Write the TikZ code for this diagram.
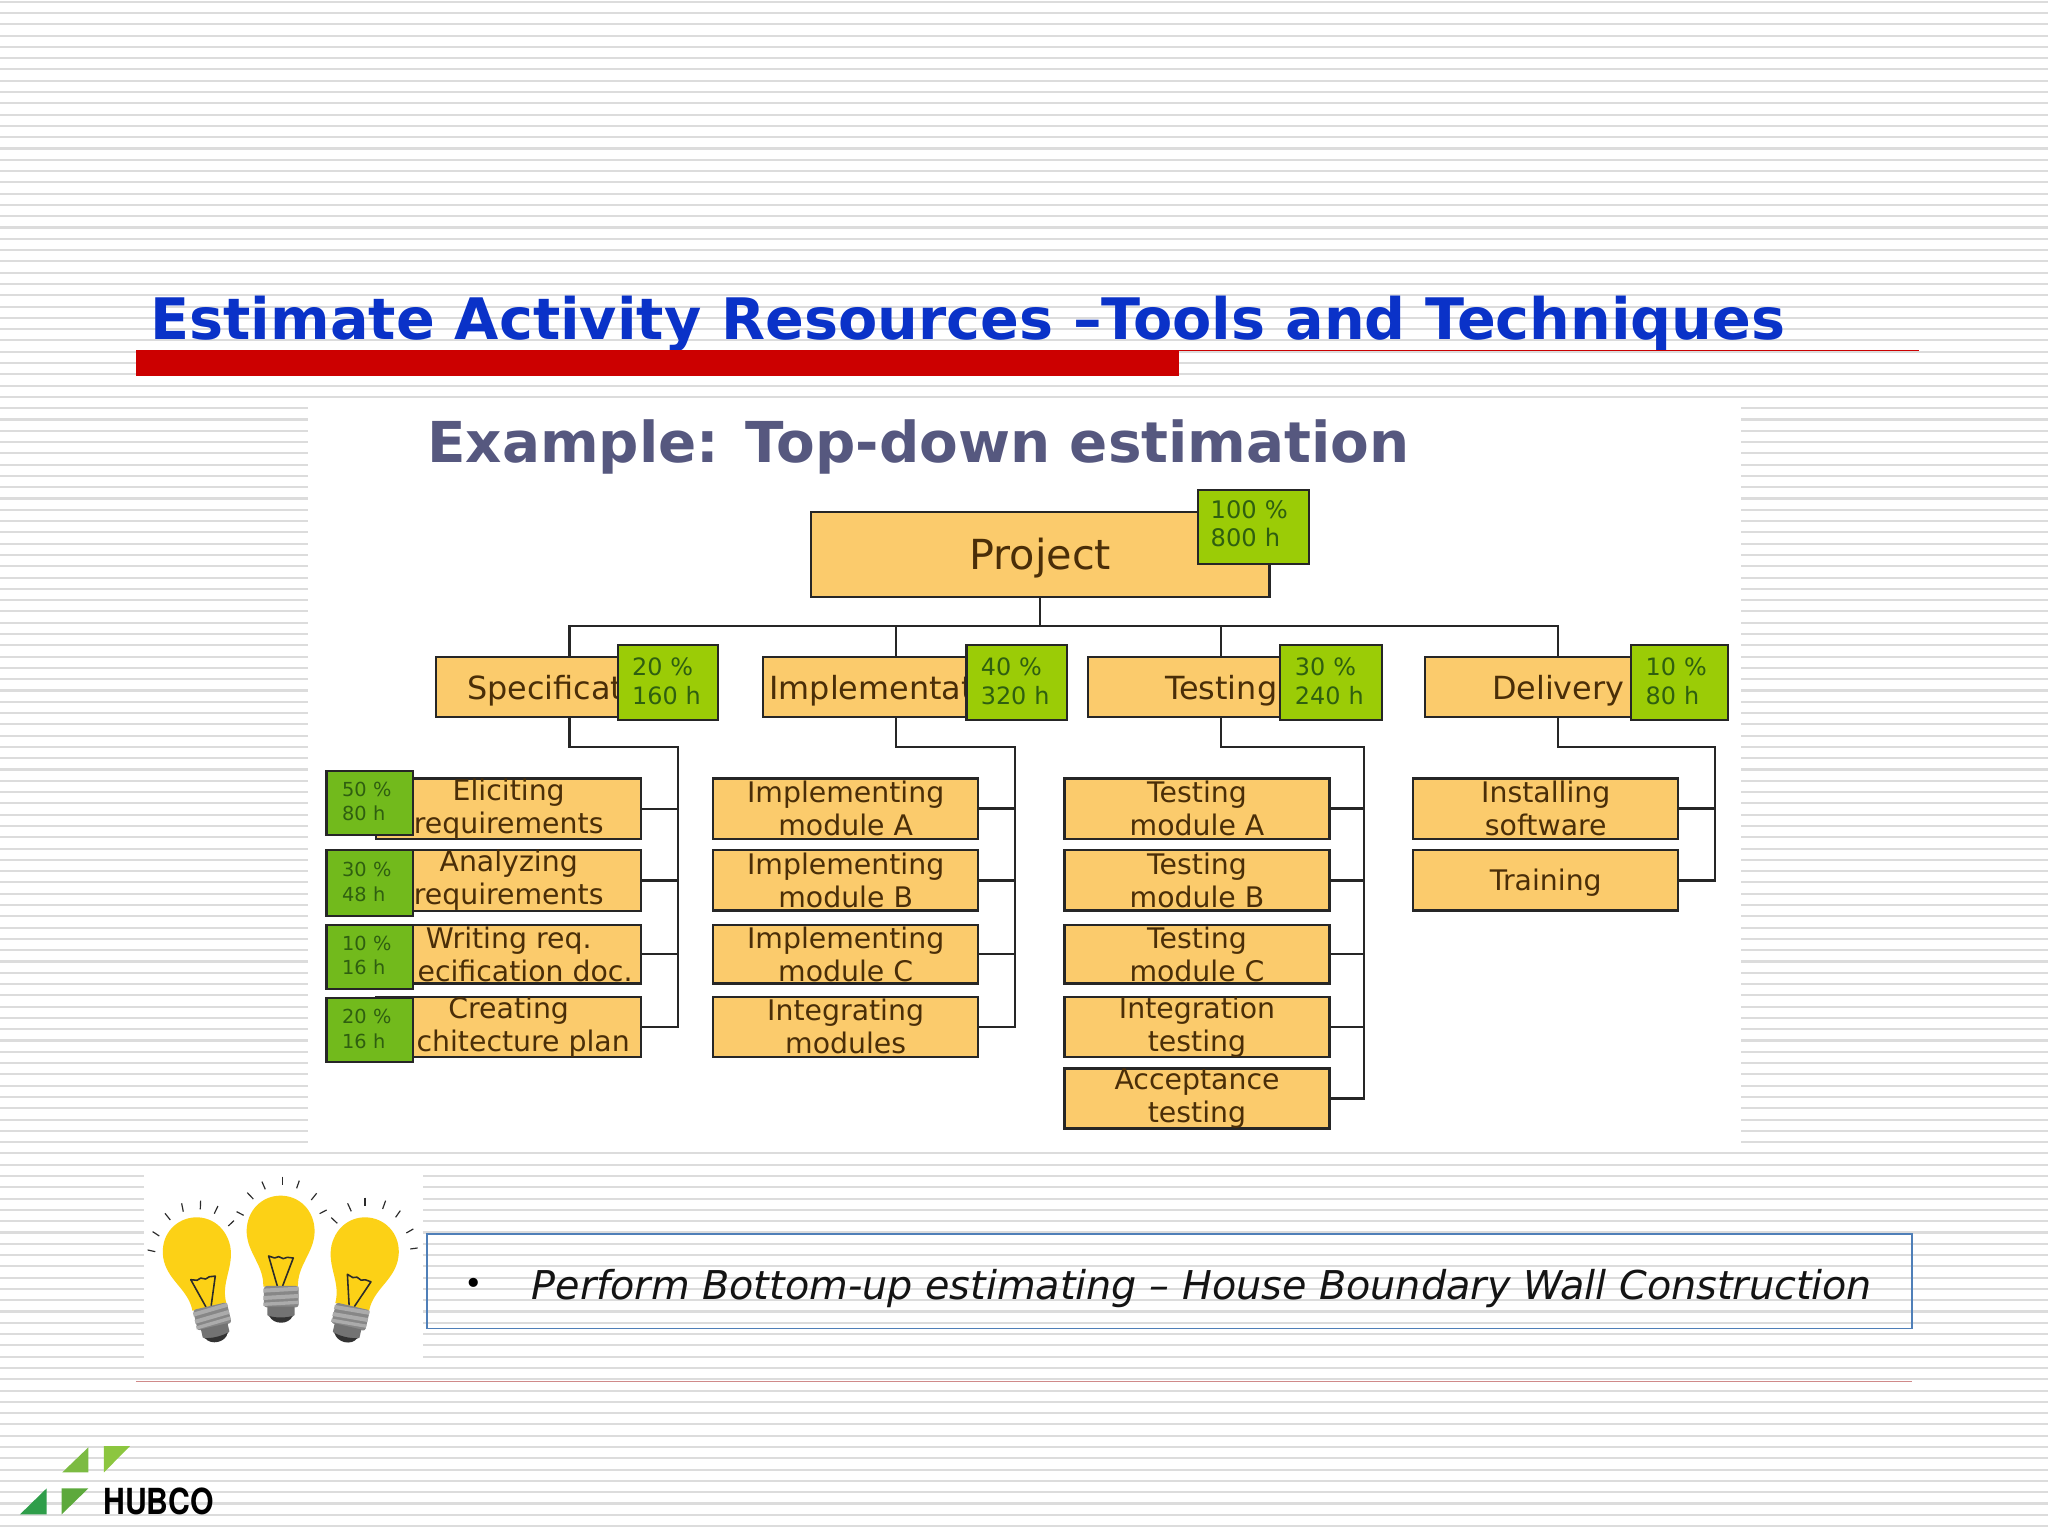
\documentclass[tikz,border=0pt]{standalone}
\usepackage{fontspec}
\setmainfont{DejaVu Sans}
\newfontfamily\logofont{TeX Gyre Heros}
\usetikzlibrary{calc}
\definecolor{stripeg}{HTML}{DCDCDC}
\definecolor{boxfill}{HTML}{FBCB6C}
\definecolor{greenA}{HTML}{9BCC06}
\definecolor{greenB}{HTML}{72BA1C}
\definecolor{boxink}{HTML}{4A2E08}
\definecolor{greenink}{HTML}{2F5F10}
\definecolor{edge}{HTML}{262626}
\definecolor{titleblue}{HTML}{0A32C8}
\definecolor{exink}{HTML}{56587F}
\definecolor{barred}{HTML}{CC0000}
\definecolor{boxblue}{HTML}{4F7FB8}
\definecolor{bulby}{HTML}{FCD116}
\definecolor{bulbk}{HTML}{2B2B2B}
\definecolor{hubA}{HTML}{7CBB42}
\definecolor{hubB}{HTML}{8CC63F}
\definecolor{hubC}{HTML}{2F9E4A}
\definecolor{hubD}{HTML}{5DA93C}
\definecolor{footred}{HTML}{D08A8A}
\newcommand\fz[2]{\fontsize{#1}{#2}\selectfont}
\newcommand\dn[2]{\raisebox{-#1pt}[\height][\depth]{#2}}
\newcommand\up[3]{\raisebox{#1pt}[\height][\depth]{\parbox{#2pt}{#3}}}
\tikzset{
  x=1pt,y=-1pt,
  wbs/.style={draw=edge,line width=1.7pt,fill=boxfill,text=boxink,inner sep=0pt,anchor=north west,align=center},
  lvone/.style={wbs,minimum width=351pt,minimum height=65pt,font=\fz{31.7}{34}},
  lvtwo/.style={wbs,minimum width=204pt,minimum height=46pt,font=\fz{24.4}{26}},
  lvthree/.style={wbs,minimum width=203pt,minimum height=46pt,font=\fz{21.7}{25.3}},
  pct/.style={draw=edge,line width=1.7pt,fill=greenA,text=greenink,inner sep=0pt,anchor=north west,align=left},
  pctbig/.style={pct,minimum width=85pt,minimum height=57pt,text width=65pt,font=\fz{18.5}{21}},
  pctmid/.style={pct,minimum width=77pt,minimum height=57pt,text width=55pt,font=\fz{18.3}{22}},
  pctsmall/.style={pct,fill=greenB,minimum width=66pt,minimum height=49pt,text width=42pt,font=\fz{14.8}{19}},
  link/.style={draw=edge,line width=1.7pt},
  ray/.style={draw=bulbk,line width=.9pt},
  heading/.style={anchor=base west,inner sep=0pt},
}
% one bulb, local origin at the centre of the glass, in zoom units
\newcommand\bulbat[3]{%
\begin{scope}[shift={(#1,#2)},rotate=#3]
  \fill[bulby] (-52,170) .. controls (-50,105) and (-100,70) .. (-102,5)
     .. controls (-102,-60) and (-55,-103) .. (0,-103)
     .. controls (55,-103) and (102,-60) .. (102,5)
     .. controls (100,70) and (50,105) .. (52,170) -- cycle;
  \draw[bulbk,line width=1.2pt,line join=round] (-10,168) -- (-36,78) -- (-18,84) -- (-6,80) -- (8,86) -- (20,82) -- (38,84) -- (6,168);
  \fill[rounded corners=2pt,black!47] (-50,168) rectangle (54,232);
  \fill[black!33] (-52,176) -- (54,170) -- (54,182) -- (-52,188) -- cycle;
  \fill[black!33] (-52,198) -- (54,192) -- (54,204) -- (-52,210) -- cycle;
  \fill[black!33] (-52,218) -- (54,212) -- (54,222) -- (-52,228) -- cycle;
  \fill[black!55] (-40,230) -- (42,230) -- (42,255) .. controls (30,270) and (-28,270) .. (-40,255) -- cycle;
  \fill[black!80] (-34,258) .. controls (-15,264) and (15,264) .. (36,258) .. controls (25,285) and (-22,285) .. (-34,258) -- cycle;
\end{scope}}
\begin{document}
\begin{tikzpicture}
\useasboundingbox (0,0) rectangle (1568,1176);
\clip (0,0) rectangle (1568,1176);
\fill[white] (0,0) rectangle (1568,1176);
\foreach \i in {0,...,135}{
  \pgfmathsetmacro\yy{1.3+\i*8.645}
  \draw[stripeg,line width=1.6pt] (0,\yy) -- (1568,\yy);
}
% title
\node[heading,text=titleblue,font=\bfseries\fz{43.8}{50}] (title) at (115,260) {Estimate Activity Resources –Tools and Techniques};
\fill[barred] (104,268) rectangle (903,288);
\draw[barred,line width=.8pt] (903,268.5) -- (1469,268.5);
% picture panel
\fill[white] (236,307) rectangle (1333,877);
\node[heading,text=exink,font=\bfseries\fz{43.15}{46}] (example) at (327,354) {Example: Top-down estimation};
\begin{scope}[shift={(-.9,-.8)}]
% tree: boxes
\node[lvone] (proj) at (621,392) {\dn{3}{Project}};
\node[lvtwo] (spec) at (334,503) {\dn{3}{Specificat\hphantom{ion}}};
\node[lvtwo] (impl) at (584,503) {\dn{3}{Implementat\hphantom{ion}}};
\node[lvtwo] (test) at (833,503) {\dn{3}{Testing}};
\node[lvtwo] (deli) at (1091,503) {\dn{3}{Delivery}};
\node[lvthree] (a1) at (288,596) {Eliciting\\requirements};
\node[lvthree] (a2) at (288,651) {Analyzing\\requirements};
\node[lvthree,minimum height=45pt] (a3) at (288,708) {Writing req.\\\hphantom{sp}ecification doc.};
\node[lvthree] (a4) at (288,763) {Creating\\\hphantom{ar}chitecture plan};
\node[lvthree] (b1) at (546,596) {Implementing\\module A};
\node[lvthree] (b2) at (546,651) {Implementing\\module B};
\node[lvthree,minimum height=45pt] (b3) at (546,708) {Implementing\\module C};
\node[lvthree] (b4) at (546,763) {Integrating\\modules};
\node[lvthree] (c1) at (815,596) {Testing\\module A};
\node[lvthree] (c2) at (815,651) {Testing\\module B};
\node[lvthree,minimum height=45pt] (c3) at (815,708) {Testing\\module C};
\node[lvthree] (c4) at (815,763) {Integration\\testing};
\node[lvthree] (c5) at (815,818) {Acceptance\\testing};
\node[lvthree] (d1) at (1082,596) {Installing\\software};
\node[lvthree] (d2) at (1082,651) {\dn{2}{Training}};
% tree: connectors
\coordinate (busy) at (0,480);
\coordinate (bus) at (proj.south |- busy);
\coordinate (ra) at (520,573);
\coordinate (rb) at (778,573);
\coordinate (rc) at (1045,573);
\coordinate (rd) at (1314,573);
\draw[link] (proj.south) -- (bus);
\draw[link] (spec.north) |- (bus);
\draw[link] (impl.north) |- (bus);
\draw[link] (test.north) |- (bus);
\draw[link] (deli.north) |- (bus);
\draw[link] (spec.south) |- (ra) -- (ra |- a4.east) -- (a4.east);
\draw[link] (impl.south) |- (rb) -- (rb |- b4.east) -- (b4.east);
\draw[link] (test.south) |- (rc) -- (rc |- c5.east) -- (c5.east);
\draw[link] (deli.south) |- (rd) -- (rd |- d2.east) -- (d2.east);
\foreach \n in {a1,a2,a3}{\draw[link] (\n.east) -- (\n.east -| ra);}
\foreach \n in {b1,b2,b3}{\draw[link] (\n.east) -- (\n.east -| rb);}
\foreach \n in {c1,c2,c3,c4}{\draw[link] (\n.east) -- (\n.east -| rc);}
\draw[link] (d1.east) -- (d1.east -| rd);
% tree: effort tags
\node[pctbig] (tp) at (917,375) {\up{2.5}{65}{100 \%\\800 h}};
\node[pctmid] (ts) at (473,494) {\up{1}{55}{20 \%\\160 h}};
\node[pctmid] (ti) at (740,494) {\up{1}{55}{40 \%\\320 h}};
\node[pctmid,minimum width=78pt] (tt) at (980,494) {\up{1}{55}{30 \%\\240 h}};
\node[pctmid,minimum width=74pt,text width=52pt] (td) at (1249,494) {\up{1}{52}{10 \%\\80 h}};
\node[pctsmall] (t1) at (250,590) {\up{1}{42}{50 \%\\80 h}};
\node[pctsmall,minimum height=50pt] (t2) at (250,651) {\up{1}{42}{30 \%\\48 h}};
\node[pctsmall] (t3) at (250,708) {\up{1}{42}{10 \%\\16 h}};
\node[pctsmall] (t4) at (250,764) {\up{1}{42}{20 \%\\16 h}};
\end{scope}
% bulbs
\fill[white] (110,897) rectangle (324,1046);
\begin{scope}[shift={(99.5,888.1)},scale=0.2552]
  \bulbat{452}{210}{0}
  \bulbat{200}{275}{13}
  \bulbat{705}{275}{-13}
  \foreach \ax/\ay/\bx/\by in {
    212/122/211/148, 155/130/160/155, 105/160/121/180, 68/215/88/228, 53/270/76/275, 264/138/253/161, 312/182/295/198,
    457/50/457/76, 396/65/406/88, 352/98/370/117, 508/62/500/85, 560/100/544/120, 320/155/341/166, 590/150/569/161,
    705/113/705/139, 653/130/664/154, 604/173/622/190, 767/122/758/147, 811/152/797/172, 850/207/829/219, 863/264/841/267}
    {\draw[ray] (\ax,\ay) -- (\bx,\by);}
\end{scope}
% bottom note
\draw[boxblue,line width=1.3pt] (327,945) rectangle (1464,1017);
\node[anchor=center,inner sep=0pt,font=\fz{24}{28}] (bul) at (363,985) {•};
\node[heading,font=\itshape\fz{30.4}{36},text=black!92] (note) at (407,995) {Perform Bottom-up estimating – House Boundary Wall Construction};
\draw[footred,line width=.8pt] (104,1058) -- (1464,1058);
% logo
\begin{scope}[shift={(0,1087.2)},scale=0.2552]
  \fill[hubA] (265,82) -- (265,157) -- (187,157) -- cycle;
  \fill[hubB] (312,78) -- (390,78) -- (312,157) -- cycle;
  \fill[hubC] (140,205) -- (140,283) -- (60,283) -- cycle;
  \fill[hubD] (185,205) -- (265,205) -- (185,283) -- cycle;
\end{scope}
\node[anchor=base west,inner sep=0pt,xscale=.84,font=\logofont\bfseries\fz{27.5}{30}] (hubco) at (79,1159.5) {HUBCO};
\end{tikzpicture}
\end{document}
